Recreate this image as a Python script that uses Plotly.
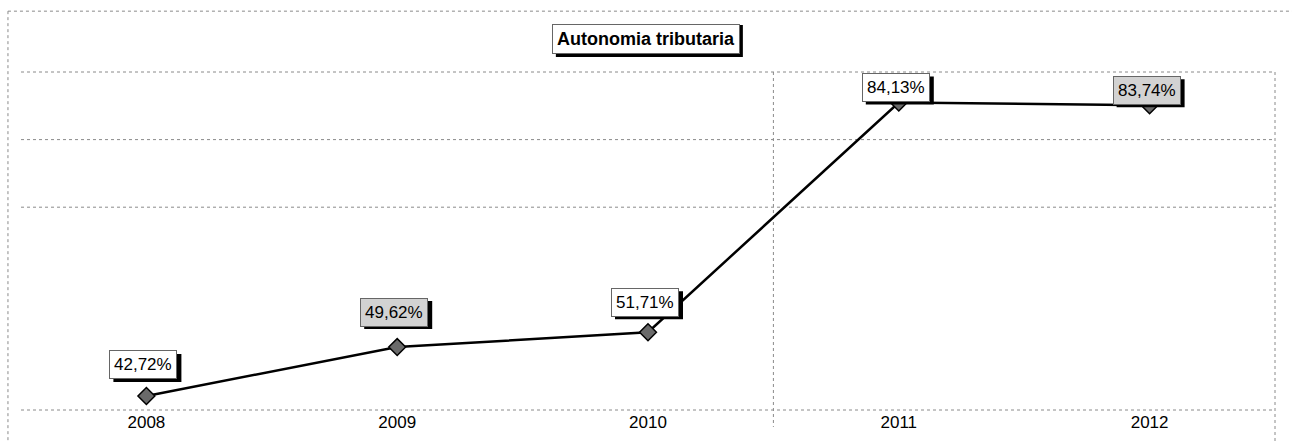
import plotly.graph_objects as go

# Data
years = ["2008", "2009", "2010", "2011", "2012"]
autonomia = [42.72, 49.62, 51.71, 84.13, 83.74]
labels = ["42,72%", "49,62%", "51,71%", "84,13%", "83,74%"]

# label styling (scan has grey speckled boxes on two of them)
label_bg = ["white", "#d2d2d2", "white", "white", "#d2d2d2"]
label_shift = [31, 35, 30, 15, 15]

FONT = "Liberation Sans, Arial, sans-serif"
GRID = dict(color="#8a8a8a", width=1, dash="dot")

xpos = list(range(len(years)))

fig = go.Figure()

fig.add_trace(go.Scatter(
    x=xpos, y=autonomia, mode="lines+markers",
    line=dict(color="black", width=2.5),
    marker=dict(symbol="diamond", size=13, color="#6a6a6a",
                line=dict(color="black", width=1.5)),
    showlegend=False, hoverinfo="skip",
))

# data labels; the Excel-like drop shadow is a pixel-sized rect behind each box
for x, y, txt, bg, dy in zip(xpos, autonomia, labels, label_bg, label_shift):
    fig.add_shape(type="rect", xref="x", yref="y", xsizemode="pixel", ysizemode="pixel",
                  xanchor=x, yanchor=y, x0=-33, x1=35, y0=dy - 17, y1=dy + 11,
                  fillcolor="black", line=dict(width=0), layer="above")
    fig.add_annotation(x=x, y=y, text=txt, showarrow=False,
                       xshift=-3, yshift=dy,
                       font=dict(family=FONT, size=17, color="black"),
                       bgcolor=bg, bordercolor="#666", borderwidth=1, borderpad=4)

# title box with shadow
fig.add_shape(type="rect", xref="paper", yref="paper", xsizemode="pixel", ysizemode="pixel",
              xanchor=0.4983, yanchor=1.0, x0=-90, x1=97, y0=15, y1=47,
              fillcolor="black", line=dict(width=0), layer="above")
fig.add_annotation(x=0.4983, y=1.0, xref="paper", yref="paper", yanchor="bottom",
                   yshift=18, text="<b>Autonomia tributaria</b>", showarrow=False,
                   font=dict(family=FONT, size=18, color="black"),
                   bgcolor="white", bordercolor="#666", borderwidth=1, borderpad=4)

# horizontal gridlines (only the upper ones survive in the scan) and baseline
for yy in [1.0, 0.8, 0.6, 0.0]:
    fig.add_shape(type="line", xref="paper", yref="paper", x0=0, x1=1, y0=yy, y1=yy,
                  line=GRID, layer="below")

# page border and fold line from the scan
fig.add_shape(type="line", xref="paper", yref="paper", x0=-0.0104, x1=-0.0104,
              y0=1.18, y1=-0.1, line=GRID)
fig.add_shape(type="line", xref="paper", yref="paper", x0=-0.0104, x1=1.02,
              y0=1.18, y1=1.18, line=GRID)
fig.add_shape(type="line", xref="paper", yref="paper", x0=1, x1=1,
              y0=1.0, y1=-0.1, line=GRID)
fig.add_shape(type="line", xref="x", yref="paper", x0=2.5, x1=2.5,
              y0=1.0, y1=-0.05, line=GRID, layer="below")

fig.update_xaxes(range=[-0.5, len(years) - 0.5], tickvals=xpos, ticktext=years,
                 showgrid=False, zeroline=False, showline=False, ticks="",
                 tickfont=dict(family=FONT, size=17, color="black"))
fig.update_yaxes(range=[40.74, 88.43], showgrid=False, zeroline=False,
                 showline=False, showticklabels=False)

fig.update_layout(
    width=1292, height=443,
    margin=dict(l=21, r=17, t=72, b=33),
    paper_bgcolor="white", plot_bgcolor="white",
    font=dict(family=FONT),
)

fig.write_html("out.html", config={"displayModeBar": False},
               post_script="document.body.style.margin='0px';")
